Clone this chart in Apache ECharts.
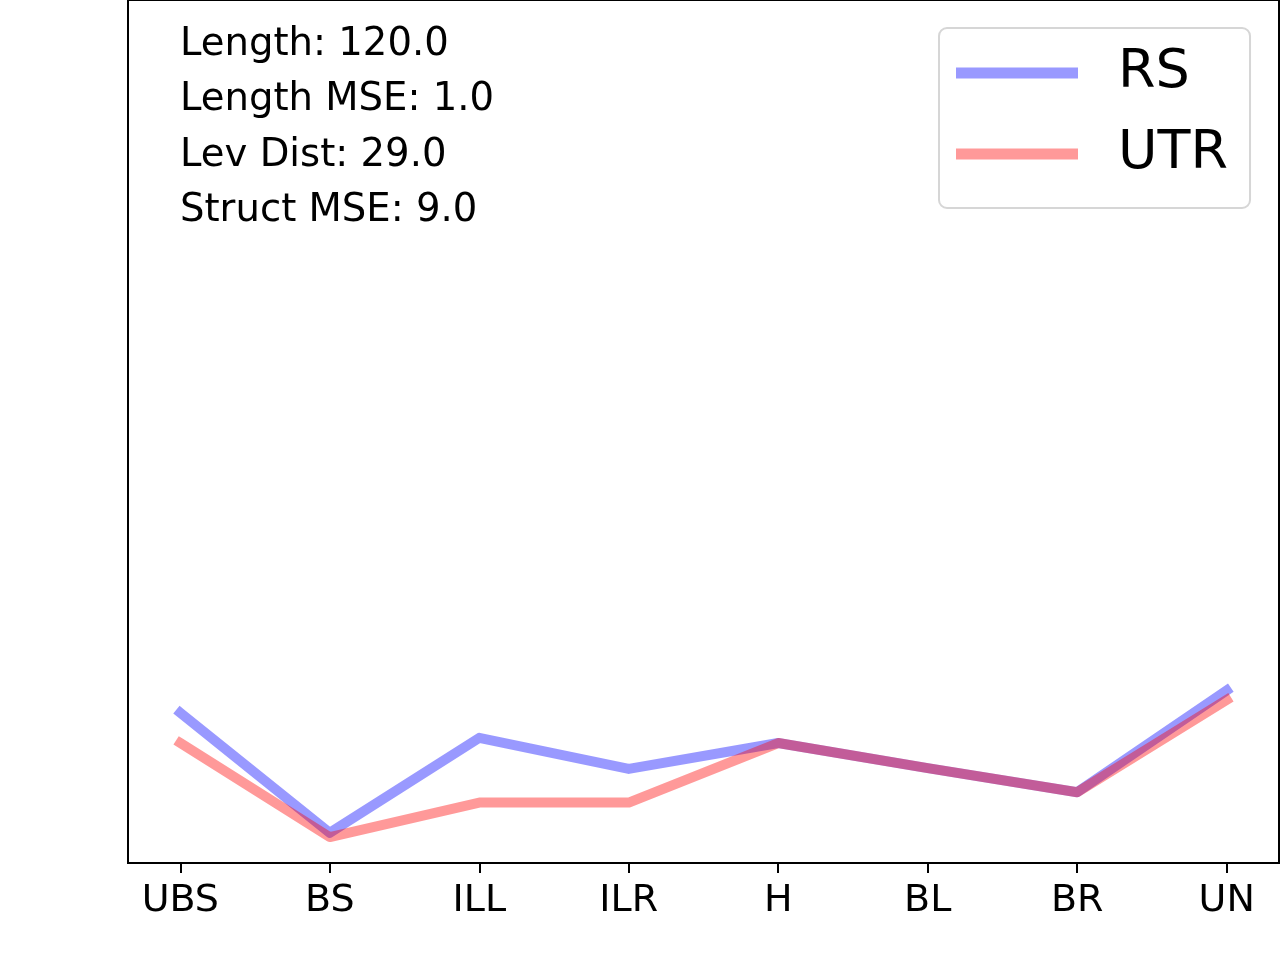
<!DOCTYPE html>
<html>
<head>
<meta charset="utf-8">
<script src="https://cdn.jsdelivr.net/npm/echarts@6/dist/echarts.min.js"></script>
<style>html,body{margin:0;padding:0;background:#fff}#c{width:1280px;height:960px}</style>
</head>
<body>
<div id="c"></div>
<script>
const categories = ['UBS', 'BS', 'ILL', 'ILR', 'H', 'BL', 'BR', 'UN'];
const rsValues  = [17.4, 3.5, 14.5, 10.9, 13.9, 11.0, 8.2, 20.0];
const utrValues = [13.9, 3.0, 7.0, 7.0, 13.9, 11.0, 8.2, 18.9];
const annotations = ['Length: 120.0', 'Length MSE: 1.0', 'Lev Dist: 29.0', 'Struct MSE: 9.0'];
const seriesNames = ['RS', 'UTR'];

const FONT = 'DejaVu Sans';
const chart = echarts.init(document.getElementById('c'), null, {renderer: 'canvas'});
const toPairs = arr => arr.map((v, i) => [i, v]);
const tickIdx = categories.map((_, i) => i);

chart.setOption({
  animation: false,
  backgroundColor: '#fff',
  title: {
    text: annotations.join('\n'),
    left: 180, top: 17, padding: 0,
    textStyle: {fontFamily: FONT, fontSize: 38.6, fontWeight: 'normal', color: '#000', lineHeight: 55.5}
  },
  legend: {
    orient: 'vertical',
    left: 939, top: 28,
    padding: [15, 22, 24, 17],
    itemWidth: 122, itemHeight: 11,
    itemGap: 21,
    icon: 'rect',
    borderColor: '#d6d6d6', borderWidth: 2, borderRadius: 8,
    backgroundColor: 'rgba(255,255,255,0.8)',
    textStyle: {fontFamily: FONT, fontSize: 54, color: '#000', lineHeight: 60, padding: [0, 0, 0, 35]},
    data: seriesNames
  },
  grid: {left: 128, right: 1, top: 0, bottom: 97, show: true, borderColor: '#000', borderWidth: 2, backgroundColor: 'transparent'},
  xAxis: {
    type: 'value', min: -0.35, max: 7.35,
    axisLine: {show: true, onZero: false, lineStyle: {color: '#000', width: 2}},
    axisTick: {show: true, inside: false, length: 10, lineStyle: {color: '#000', width: 2}, customValues: tickIdx},
    axisLabel: {show: true, customValues: tickIdx, margin: 19, fontFamily: FONT, fontSize: 38, color: '#000',
      formatter: v => categories[Math.round(v)] || ''},
    splitLine: {show: false}
  },
  yAxis: {
    type: 'value', min: 0, max: 100,
    axisLine: {show: true, onZero: false, lineStyle: {color: '#000', width: 2}},
    axisTick: {show: false}, axisLabel: {show: false}, splitLine: {show: false}
  },
  series: [
    {name: seriesNames[0], type: 'line', data: toPairs(rsValues), showSymbol: false, symbol: 'none',
      color: 'rgba(0,0,255,0.4)',
      lineStyle: {width: 10, cap: 'square', join: 'round'}},
    {name: seriesNames[1], type: 'line', data: toPairs(utrValues), showSymbol: false, symbol: 'none',
      color: 'rgba(255,0,0,0.4)',
      lineStyle: {width: 10, cap: 'square', join: 'round'}}
  ]
});
</script>
</body>
</html>
